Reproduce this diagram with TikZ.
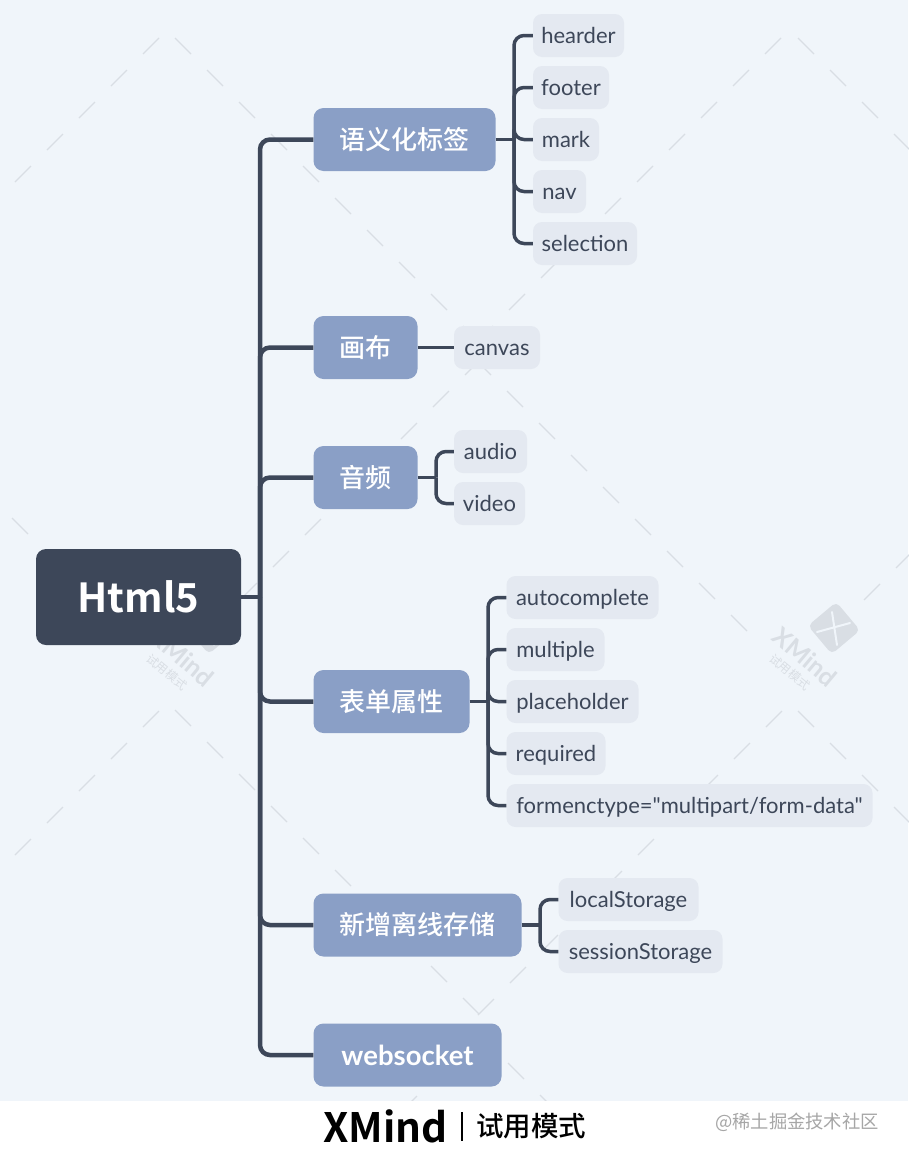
\documentclass[tikz,border=0pt]{standalone}
\usepackage{fontspec}
\newfontfamily\latoplain{Lato}
\newfontfamily\cjkreg{Noto Sans CJK SC}
\newfontfamily\cjkmed{Noto Sans CJK SC Medium}
\newfontfamily\cjkbold{Noto Sans CJK SC Bold}
\definecolor{bgc}{HTML}{F0F5FA}
\definecolor{rootc}{HTML}{3D4759}
\definecolor{topicc}{HTML}{8A9FC6}
\definecolor{subc}{HTML}{E4E9F1}
\definecolor{wmc}{HTML}{D9DEE4}
\tikzset{
  rootbox/.style={fill=rootc,text=white,rounded corners=10pt,minimum height=96pt,minimum width=205pt,inner sep=0pt,font=\cjkbold\fontsize{40}{40}\selectfont},
  topicbox/.style={fill=topicc,text=white,rounded corners=10pt,minimum height=63pt,inner sep=0pt,font=\cjkmed\fontsize{26}{26}\selectfont},
  subbox/.style={fill=subc,text=rootc,rounded corners=9pt,minimum height=43pt,inner sep=0pt,text height=18pt,text depth=2pt,font=\latoplain\fontsize{22}{22}\selectfont},
  mainconn/.style={draw=rootc,line width=4.5pt,rounded corners=10pt},
  subconn/.style={draw=rootc,line width=3.5pt,rounded corners=10pt},
  wmdash/.style={draw=wmc,line width=1.2pt},
  footx/.style={inner sep=0pt}
}
\begin{document}
\begin{tikzpicture}[x=1pt,y=-1pt]
\useasboundingbox (0,0) rectangle (908,1162);
\fill[bgc] (0,0) rectangle (908,1101);
% watermark dashes
\foreach \s in {0,...,9}{
  \draw[wmdash] ({175+32*\s},{175+32*\s-137}) -- ++(16,16);
  \draw[wmdash] ({781-32*\s},{-(781-32*\s)+819}) -- ++(-16,16);
  \draw[wmdash] ({175+32*\s},{175+32*\s+535}) -- ++(16,16);
  \draw[wmdash] ({782-32*\s},{-(782-32*\s)+1493}) -- ++(-16,16);
}
\foreach \s in {0,...,4}{
  \draw[wmdash] ({159-32*\s},{-(159-32*\s)+197}) -- ++(-16,16);
  \draw[wmdash] ({159-32*\s},{-(159-32*\s)+870}) -- ++(-16,16);
}
\foreach \s in {0,...,8}{
  \draw[wmdash] ({475+32*\s},{475+32*\s-116}) -- ++(16,16);
  \draw[wmdash] ({481-32*\s},{-(481-32*\s)+840}) -- ++(-16,16);
}
\foreach \s in {0,...,3}{
  \draw[wmdash] ({798+32*\s},{798+32*\s-760}) -- ++(16,16);
  \draw[wmdash] ({798+32*\s},{798+32*\s-87}) -- ++(16,16);
}
\foreach \s in {0,...,3}{
  \draw[wmdash] ({12+32*\s},{12+32*\s+506}) -- ++(16,16);
}
\draw[wmdash] (912,552) -- ++(-16,16);
\draw[wmdash] (880,584) -- ++(-16,16);
\draw[wmdash] (476,1031) -- ++(16,16);
\draw[wmdash] (508,1063) -- ++(16,16);
\draw[wmdash] (540,1095) -- ++(16,16);
\draw[wmdash] (449,1064) -- ++(-16,16);
\draw[wmdash] (417,1096) -- ++(-16,16);
% watermark logos
\foreach \dx in {0,-623}{
  \begin{scope}[shift={(\dx,0)}]
    \node[fill=wmc,rounded corners=5pt,minimum size=37pt,inner sep=0pt,rotate=40] (logo\dx) at (834,628) {};
    \draw[bgc,line width=2pt,line cap=round] (832,612) -- (837,645);
    \draw[bgc,line width=2pt,line cap=round] (817,632) -- (850,623);
    \node[text=wmc,rotate=-40,inner sep=0pt,font=\latoplain\bfseries\fontsize{25}{25}\selectfont] (wmx\dx) at (805,657) {XMind};
    \node[text=wmc,rotate=-40,inner sep=0pt,font=\cjkreg\fontsize{12}{12}\selectfont] (wmy\dx) at (790,672) {试用模式};
  \end{scope}
}
% bottom band
\fill[white] (0,1101) rectangle (908,1162);

% nodes
\node[rootbox] (root) at (138.5,597) {Html5};
\coordinate (trunk) at (260,597);
\node[topicbox,minimum width=182pt] (t1) at (404.5,139.5) {语义化标签};
\node[topicbox,minimum width=104pt] (t2) at (365.5,347.5) {画布};
\node[topicbox,minimum width=104pt] (t3) at (365.5,477.5) {音频};
\node[topicbox,minimum width=156pt] (t4) at (391.5,701.5) {表单属性};
\node[topicbox,minimum width=208pt] (t5) at (417.5,925) {新增离线存储};
\node[topicbox,minimum width=188pt,font=\latoplain\bfseries\fontsize{27.5}{27.5}\selectfont] (t6) at (407.5,1055) {websocket};

\node[subbox,minimum width=91pt] (a1) at (578.5,35.5) {hearder};
\node[subbox,minimum width=76pt] (a2) at (571,87.5) {footer};
\node[subbox,minimum width=66pt] (a3) at (566,139.5) {mark};
\node[subbox,minimum width=53pt] (a4) at (559.5,191.5) {nav};
\node[subbox,minimum width=104pt] (a5) at (585,243.5) {selection};
\node[subbox,minimum width=86pt] (b1) at (497,347.5) {canvas};
\node[subbox,minimum width=73pt] (c1) at (490.5,451.5) {audio};
\node[subbox,minimum width=71pt] (c2) at (489.5,503.5) {video};
\node[subbox,minimum width=152pt] (d1) at (582.5,597.5) {autocomplete};
\node[subbox,minimum width=98pt] (d2) at (555.5,649.5) {multiple};
\node[subbox,minimum width=132pt] (d3) at (572.5,701.5) {placeholder};
\node[subbox,minimum width=99pt] (d4) at (556,753.5) {required};
\node[subbox,minimum width=366pt] (d5) at (689.5,805.5) {formenctype="multipart/form-data"};
\node[subbox,minimum width=140pt] (e1) at (628.5,899.5) {localStorage};
\node[subbox,minimum width=164pt] (e2) at (640.5,951.5) {sessionStorage};

% junctions
\coordinate (ja) at (514,139.5);
\coordinate (jc) at (436,477.5);
\coordinate (jd) at (488,701.5);
\coordinate (je) at (540,925);

% connectors
\draw[mainconn] (root.east) -- (trunk);
\foreach \t in {t1,t2,t3,t4,t5,t6}{
  \draw[mainconn] (\t.west) -| (trunk);
}
\draw[subconn] (t1.east) -- (ja);
\foreach \n in {a1,a2,a3,a4,a5}{ \draw[subconn] (\n.west) -| (ja); }
\draw[subconn] (t2.east) -- (b1.west);
\draw[subconn] (t3.east) -- (jc);
\foreach \n in {c1,c2}{ \draw[subconn] (\n.west) -| (jc); }
\draw[subconn] (t4.east) -- (jd);
\foreach \n in {d1,d2,d3,d4,d5}{ \draw[subconn] (\n.west) -| (jd); }
\draw[subconn] (t5.east) -- (je);
\foreach \n in {e1,e2}{ \draw[subconn] (\n.west) -| (je); }

% footer
\node[footx,anchor=west,font=\cjkbold\fontsize{40.5}{40.5}\selectfont,text=black] (fx) at (323,1126) {XMind};
\node[footx,minimum height=29pt,minimum width=1.6pt,fill=black] (fbar) at (462,1126) {};
\node[footx,anchor=west,font=\cjkmed\fontsize{27.5}{27.5}\selectfont,text=black] (fy) at (476,1126) {试用模式};
\node[footx,anchor=east,font=\cjkreg\fontsize{18.3}{18.3}\selectfont,text=black!35] (fz) at (879,1122) {@稀土掘金技术社区};
\end{tikzpicture}
\end{document}
